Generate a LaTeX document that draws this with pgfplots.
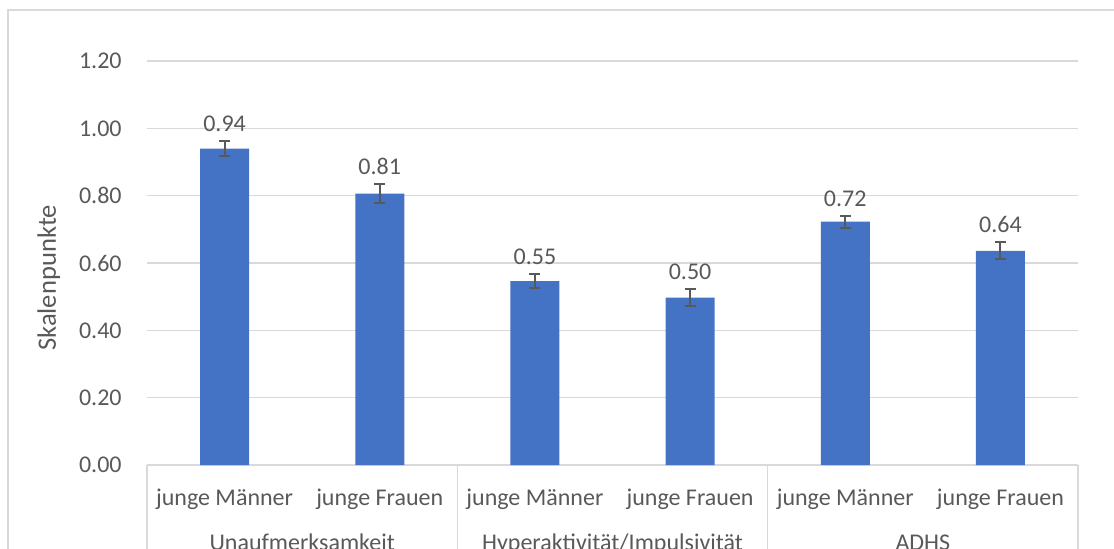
\documentclass[border=0pt]{standalone}
\usepackage{pgfplots}
\pgfplotsset{compat=1.18}
\usepackage{pgfplotstable}
\usepackage{fontspec}
\setmainfont{Carlito}

\definecolor{barblue}{HTML}{4472C4}
\definecolor{txtgray}{HTML}{595959}
\definecolor{gridgray}{HTML}{D9D9D9}

% x  mean  err  top(=mean+err, where the label sits)
\pgfplotstableread{
x  y      err    top
0  0.940  0.022  0.962
1  0.806  0.029  0.835
2  0.546  0.020  0.566
3  0.497  0.025  0.522
4  0.723  0.018  0.741
5  0.636  0.025  0.661
}\skalen

\begin{document}
\begin{tikzpicture}
\useasboundingbox (0,0) rectangle (557pt,274pt);
\clip (0,0) rectangle (557pt,274pt);
% chart frame
\draw[gridgray, line width=0.75pt] (4pt,-10pt) rectangle (557.4pt,269pt);

\begin{axis}[
    at={(73.5pt,41.5pt)}, anchor=south west,
    scale only axis,
    width=465.5pt, height=202pt,
    xmin=-0.5, xmax=5.5,
    ymin=0, ymax=1.2,
    axis line style={draw=none},
    tick style={draw=none},
    ytick={0,0.2,...,1.2},
    ymajorgrids,
    major grid style={gridgray, line width=0.75pt},
    xtick={0,1,2,3,4,5},
    xticklabels={junge Männer, junge Frauen, junge Männer, junge Frauen, junge Männer, junge Frauen},
    extra x ticks={0.5,2.5,4.5},
    extra x tick labels={Unaufmerksamkeit, Hyperaktivität/Impulsivität, ADHS},
    extra x tick style={grid=none, xticklabel style={yshift=-22.5pt}},
    xticklabel style={anchor=base, yshift=-20pt, inner sep=0pt},
    yticklabel style={anchor=east, xshift=-12.5pt, inner sep=0pt},
    ticklabel style={font=\fontsize{12}{14}\selectfont, text=txtgray},
    /pgf/number format/.cd, fixed, fixed zerofill, precision=2, assume math mode=true,
    /pgfplots/.cd,
    ylabel={Skalenpunkte},
    ylabel style={at={(rel axis cs:0,0.463)}, yshift=45.5pt, anchor=base, inner sep=0pt,
                  font=\fontsize{13.3}{15}\selectfont, text=txtgray},
    clip=false,
]

\addplot[ybar, bar width=24.5pt, bar shift=0pt, fill=barblue, draw=none,
    error bars/.cd, y dir=both, y explicit,
    error bar style={txtgray, line width=1pt},
    error mark options={rotate=90, txtgray, line width=1pt, mark size=2.75pt}]
    table[x=x, y=y, y error=err] {\skalen};

\addplot[draw=none, mark=none, nodes near coords, point meta=explicit,
    every node near coord/.append style={anchor=base, yshift=4.75pt, inner sep=0pt,
        font=\fontsize{12}{14}\selectfont, text=txtgray}]
    table[x=x, y=top, meta=y] {\skalen};

% category axis separators
\draw[gridgray, line width=0.75pt] (axis cs:-0.5,0) -- ++(0pt,-60pt);
\draw[gridgray, line width=0.75pt] (axis cs:1.5,0) -- ++(0pt,-60pt);
\draw[gridgray, line width=0.75pt] (axis cs:3.5,0) -- ++(0pt,-60pt);
\draw[gridgray, line width=0.75pt] (axis cs:5.5,0) -- ++(0pt,-60pt);
\end{axis}
\end{tikzpicture}
\end{document}
